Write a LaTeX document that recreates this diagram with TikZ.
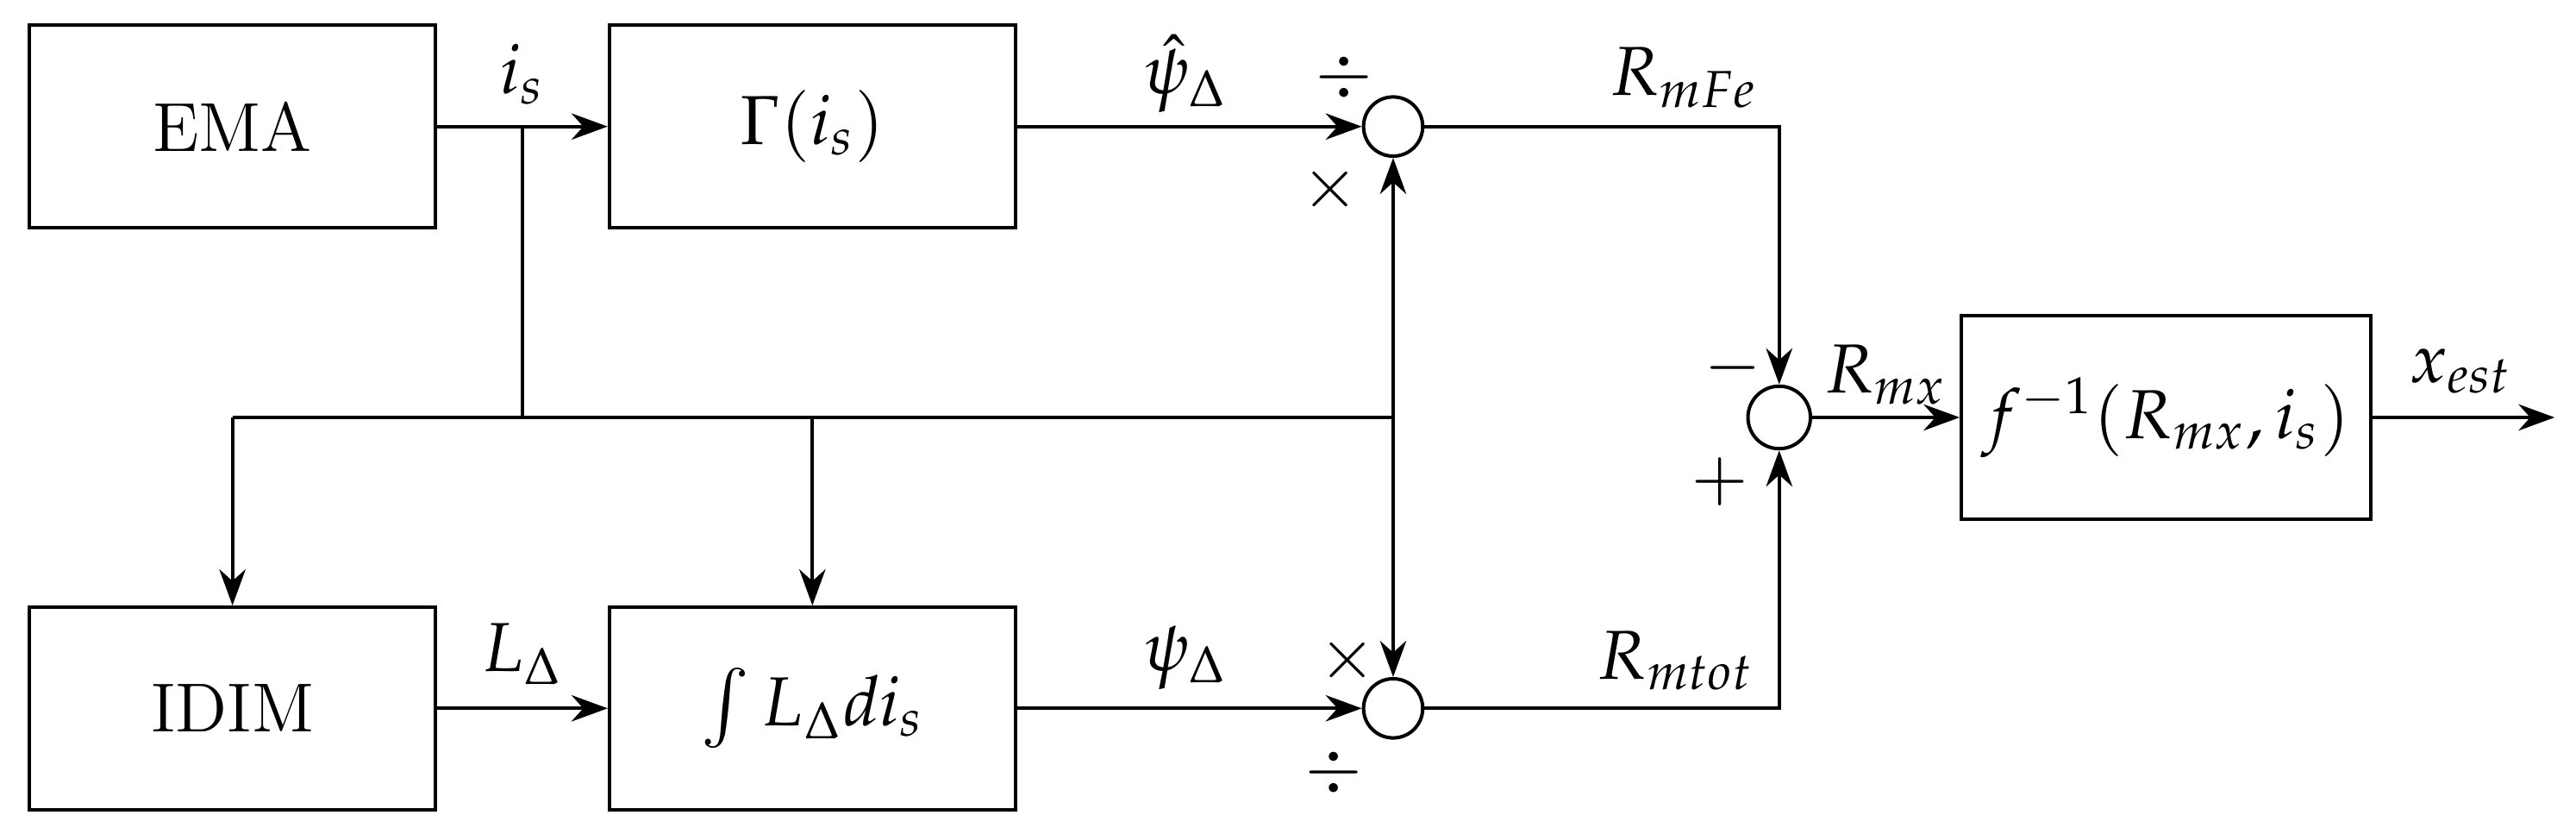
\documentclass[tikz,border=0pt]{standalone}
\usepackage{mathpazo}
\usetikzlibrary{arrows.meta}
\begin{document}
\begin{tikzpicture}[x=0.01cm,y=-0.01cm,
  blk/.style={draw,line width=0.6pt,inner sep=0pt,minimum width=2.47cm,minimum height=1.23cm,font=\fontsize{12}{14}\selectfont},
  sm/.style={draw,circle,line width=0.6pt,minimum size=0.36cm,inner sep=0pt},
  lbl/.style={font=\fontsize{12}{14}\selectfont},
  ar/.style={-{Stealth[length=2.2mm,width=1.6mm]},line width=0.6pt},
  ln/.style={line width=0.6pt}]
\useasboundingbox (0,0) rectangle (1568,507);
\node[blk] (ema) at (141.5,77) {EMA};
\node[blk] (gam) at (494.5,77) {$\Gamma(i_s)$};
\node[blk] (idim) at (141.5,431) {IDIM};
\node[blk] (int) at (494.5,431) {$\int L_\Delta d i_s$};
\node[blk,minimum width=2.49cm,minimum height=1.24cm] (f) at (1318.5,254) {$f^{-1}(R_{mx},i_s)$};
\node[sm] (dt) at (848,77) {};
\node[sm] (db) at (848,431) {};
\node[sm,minimum size=0.38cm] (s) at (1083,254) {};
\coordinate (j1) at (318,77);
\coordinate (j2) at (318,254);
\coordinate (jl) at (141.5,254);
\coordinate (jm) at (494.5,254);
\coordinate (jr) at (848,254);
\coordinate (ct) at (1083,77);
\coordinate (cb) at (1083,431);
\coordinate (out) at (1555,254);
\draw[ar] (ema) -- (gam);
\draw[ln] (j1) -- (j2);
\draw[ln] (jl) -- (jr);
\draw[ar] (jl) -- (idim);
\draw[ar] (jm) -- (int);
\draw[ar] (jr) -- (dt);
\draw[ar] (jr) -- (db);
\draw[ar] (gam) -- (dt);
\draw[ar] (idim) -- (int);
\draw[ar] (int) -- (db);
\draw[ar] (dt) -- (ct) -- (s);
\draw[ar] (db) -- (cb) -- (s);
\draw[ar] (s) -- (f);
\draw[ar] (f) -- (out);
\node[lbl] at (318,45) {$i_s$};
\node[lbl] at (722,45) {$\hat\psi_\Delta$};
\node[lbl] at (818,47) {$\div$};
\node[lbl] at (810,115) {$\times$};
\node[lbl] at (1025,47) {$R_{mFe}$};
\node[lbl] at (1148,228) {$R_{mx}$};
\node[lbl] at (1055,224) {$-$};
\node[lbl] at (1047,293) {$+$};
\node[lbl] at (1498,226) {$x_{est}$};
\node[lbl] at (318,398) {$L_\Delta$};
\node[lbl] at (722,400) {$\psi_\Delta$};
\node[lbl] at (820,402) {$\times$};
\node[lbl] at (812,470) {$\div$};
\node[lbl] at (1020,402) {$R_{mtot}$};
\end{tikzpicture}
\end{document}
